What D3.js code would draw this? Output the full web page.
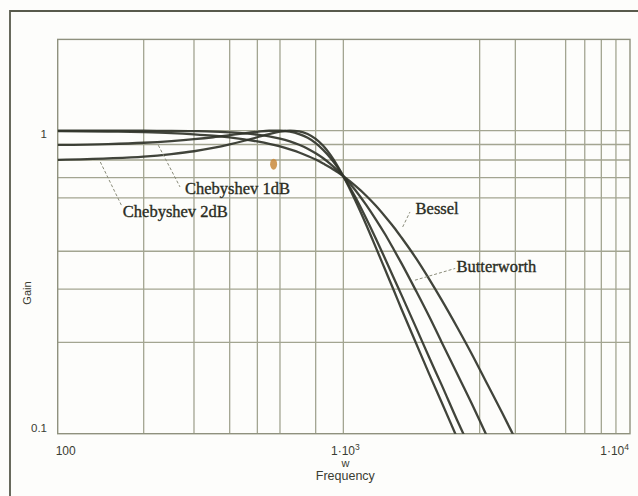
<!DOCTYPE html>
<html>
<head>
<meta charset="utf-8">
<script src="https://cdn.jsdelivr.net/npm/d3@7/dist/d3.min.js"></script>
<style>
  html, body { margin: 0; padding: 0; background: #fdfdfb; }
  svg { display: block; }
</style>
</head>
<body>
<svg id="chart" width="638" height="496"></svg>
<script>
// ---- data ----
const frequency = [100,150,200,250,300,350,400,450,500,550,600,650,700,750,800,850,900,950,1000,
                   1100,1200,1300,1400,1500,1600,1800,2000,2200,2500,2800,3200,3600,4000,4500];
const bessel = [0.997,0.993,0.988,0.981,0.972,0.962,0.950,0.936,0.921,0.905,0.887,0.867,0.847,0.825,0.803,0.779,0.756,0.731,0.707,
                0.658,0.611,0.565,0.521,0.481,0.443,0.378,0.323,0.278,0.225,0.185,0.145,0.117,0.096,0.077];
const butterworth = [1.000,1.000,0.999,0.998,0.996,0.993,0.987,0.980,0.970,0.957,0.941,0.921,0.898,0.872,0.842,0.811,0.777,0.742,0.707,
                0.637,0.570,0.509,0.455,0.406,0.364,0.295,0.243,0.202,0.158,0.127,0.097,0.077,0.062,0.049];
const cheby1dB = [0.897,0.903,0.912,0.924,0.937,0.951,0.966,0.980,0.991,0.999,0.999,0.992,0.974,0.947,0.910,0.864,0.814,0.761,0.707,
                0.605,0.515,0.440,0.378,0.327,0.286,0.223,0.178,0.146,0.111,0.088,0.067,0.052,0.042,0.033];
const cheby2dB = [0.801,0.810,0.821,0.837,0.855,0.877,0.901,0.926,0.951,0.974,0.992,1.000,0.995,0.975,0.939,0.891,0.833,0.770,0.707,
                0.589,0.491,0.411,0.348,0.298,0.257,0.198,0.157,0.128,0.097,0.076,0.058,0.045,0.036,0.029];
const seriesNames = ["Bessel","Butterworth","Chebyshev 1dB","Chebyshev 2dB"];
const xGridValues = [200,300,400,500,600,800,1000,3000,4000,6000,7000,8000,9000];
const yGridValues = [0.2,0.3,0.4,0.6,0.7,0.8,0.9,1];
const xTickLabels = [{v:100, base:"100", sup:""},{v:1000, base:"1·10", sup:"3"},{v:10000, base:"1·10", sup:"4"}];
const yTickLabels = [{v:1, t:"1"},{v:0.1, t:"0.1"}];
// annotation labels: text, leader start, leader end, label baseline-left (all as frequency, gain)
const annotations = [
  {text:"Chebyshev 1dB", tip:[225,0.895],  end:[268,0.652],  at:[279,0.617]},
  {text:"Chebyshev 2dB", tip:[141,0.788],  end:[167,0.568],  at:[169,0.518]},
  {text:"Bessel",        tip:[1613,0.481], end:[1711,0.539], at:[1790,0.530]},
  {text:"Butterworth",   tip:[1781,0.321], end:[2464,0.351], at:[2490,0.341]}
];

// ---- layout ----
const svg = d3.select("#chart");
const pL = 57.7, pR = 630, pT = 39.4, pB = 433.7;
const x = d3.scaleLog().domain([100, 10080]).range([pL, pR]);
const y = d3.scaleLog().domain([0.1, 2]).range([pB, pT]);

const ink = "#31342a";
const gridColor = "#a3a591";

// outer frame
svg.append("path")
  .attr("d", "M10,496 L10,11 L638,11")
  .attr("fill", "none").attr("stroke", "#585a4c").attr("stroke-width", 1.8);

// clip
svg.append("clipPath").attr("id","plotclip")
  .append("rect").attr("x", pL).attr("y", pT).attr("width", pR-pL).attr("height", pB-pT);

// grid
const g = svg.append("g");
g.selectAll("line.vx").data(xGridValues).join("line")
  .attr("x1", d => x(d)).attr("x2", d => x(d)).attr("y1", pT).attr("y2", pB)
  .attr("stroke", gridColor).attr("stroke-width", 1.3);
g.selectAll("line.hy").data(yGridValues).join("line")
  .attr("y1", d => y(d)).attr("y2", d => y(d)).attr("x1", pL).attr("x2", pR)
  .attr("stroke", gridColor).attr("stroke-width", 1.3);
g.append("rect").attr("x", pL).attr("y", pT).attr("width", pR-pL).attr("height", pB-pT)
  .attr("fill", "none").attr("stroke", "#8f917e").attr("stroke-width", 1.4);

// curves
const allSeries = [bessel, butterworth, cheby1dB, cheby2dB];
const line = d3.line().x(d => x(d[0])).y(d => y(d[1])).curve(d3.curveMonotoneX);
const curves = svg.append("g").attr("clip-path", "url(#plotclip)");
allSeries.forEach((vals, i) => {
  curves.append("path")
    .datum(frequency.map((f, j) => [f, vals[j]]))
    .attr("d", line)
    .attr("fill", "none").attr("stroke", ink).attr("stroke-width", 2.3)
    .attr("stroke-linejoin", "round").attr("opacity", 0.92);
});

// annotations
const ann = svg.append("g");
annotations.forEach(a => {
  ann.append("line")
    .attr("x1", x(a.tip[0])).attr("y1", y(a.tip[1]))
    .attr("x2", x(a.end[0])).attr("y2", y(a.end[1]))
    .attr("stroke", "#8a8c7a").attr("stroke-width", 1).attr("stroke-dasharray", "3,2");
  ann.append("text")
    .attr("x", x(a.at[0])).attr("y", y(a.at[1]))
    .attr("font-family", "'Liberation Serif', 'Times New Roman', serif")
    .attr("font-size", 16.5).attr("fill", "#2a2c22")
    .attr("stroke", "#2a2c22").attr("stroke-width", 0.35)
    .text(a.text);
});

// small orange mark seen in the reference
svg.append("ellipse").attr("cx", x(570)).attr("cy", y(0.775)).attr("rx", 3.5).attr("ry", 5.5)
  .attr("fill", "#c98a3c").attr("opacity", 0.85);

// y tick labels
const tickFont = "'Liberation Sans', Arial, sans-serif";
svg.selectAll("text.yt").data(yTickLabels).join("text")
  .attr("x", 47).attr("y", d => y(d.v) + (d.v === 1 ? 7 : -1.5))
  .attr("text-anchor", "end").attr("font-family", tickFont).attr("font-size", 11.5)
  .attr("fill", "#3a3c32").text(d => d.t);

// x tick labels
xTickLabels.forEach((d, i) => {
  const anchor = i === 0 ? "start" : (i === xTickLabels.length - 1 ? "end" : "middle");
  const xp = i === xTickLabels.length - 1 ? pR - 1 : x(d.v) + (i === 0 ? -2 : 2);
  const t = svg.append("text")
    .attr("x", xp).attr("y", 455)
    .attr("text-anchor", anchor).attr("font-family", tickFont).attr("font-size", 12)
    .attr("fill", "#3a3c32");
  t.append("tspan").text(d.base);
  if (d.sup) t.append("tspan").attr("dy", -5).attr("font-size", 8.5).text(d.sup);
});

// axis titles
svg.append("text").attr("x", x(1000) + 2).attr("y", 467)
  .attr("text-anchor", "middle").attr("font-family", tickFont).attr("font-size", 11)
  .attr("fill", "#3a3c32").text("w");
svg.append("text").attr("x", x(1000) + 2).attr("y", 480)
  .attr("text-anchor", "middle").attr("font-family", tickFont).attr("font-size", 12.5)
  .attr("fill", "#3a3c32").text("Frequency");
svg.append("text")
  .attr("transform", `translate(31, 293) rotate(-90)`)
  .attr("text-anchor", "middle").attr("font-family", tickFont).attr("font-size", 11)
  .attr("fill", "#3a3c32").text("Gain");
</script>
</body>
</html>
